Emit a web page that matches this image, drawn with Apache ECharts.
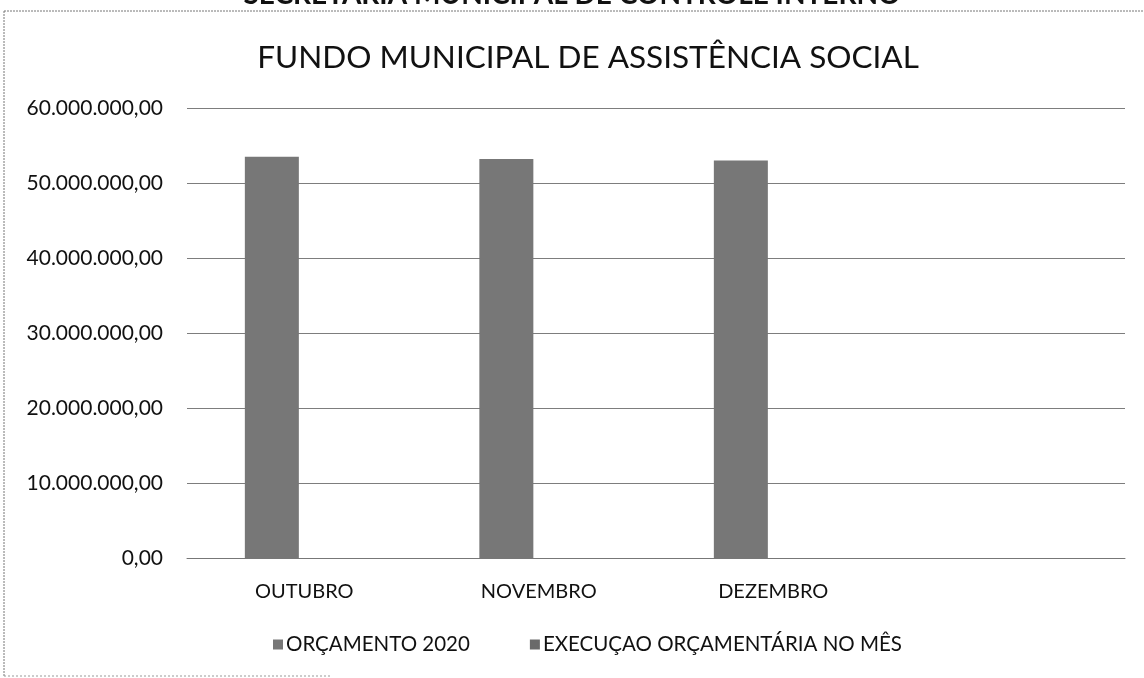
<!DOCTYPE html>
<html>
<head>
<meta charset="utf-8">
<script src="https://cdn.jsdelivr.net/npm/echarts@6/dist/echarts.min.js"></script>
<style>
  html, body { margin: 0; padding: 0; background: #fff; }
  #chart { width: 1144px; height: 678px; }
</style>
</head>
<body>
<div id="chart"></div>
<script>
// meses (a quarta posição fica vazia, como no original)
const categories = ['OUTUBRO', 'NOVEMBRO', 'DEZEMBRO', ''];
const orcamento2020 = [53500000, 53200000, 53000000, null];
const execucaoMes = [0, 0, 0, null];
const seriesNames = ['ORÇAMENTO 2020', 'EXECUÇAO ORÇAMENTÁRIA NO MÊS'];
const yTicks = { min: 0, max: 60000000, interval: 10000000 };

const FONT = 'Lato, "Open Sans", sans-serif';

function brl(v) {
  const parts = Number(v).toFixed(2).split('.');
  return parts[0].replace(/\B(?=(\d{3})+(?!\d))/g, '.') + ',' + parts[1];
}

const chart = echarts.init(document.getElementById('chart'));

const option = {
  backgroundColor: '#fff',
  animation: false,
  textStyle: { fontFamily: FONT },
  title: {
    text: 'FUNDO MUNICIPAL DE ASSISTÊNCIA SOCIAL',
    left: 583,
    textAlign: 'center',
    top: 37,
    textStyle: { fontSize: 31.5, fontWeight: 'normal', color: '#111', fontFamily: FONT }
  },
  graphic: [
    {
      type: 'text',
      left: 'center',
      top: -19,
      style: { text: 'SECRETARIA MUNICIPAL DE CONTROLE INTERNO', fontSize: 28, fontWeight: 'bold', fill: '#111', fontFamily: FONT }
    },
    // moldura pontilhada do recorte
    { type: 'line', shape: { x1: 4, y1: 11, x2: 1144, y2: 11 }, style: { stroke: '#777', lineWidth: 1, lineDash: [2, 1] } },
    { type: 'line', shape: { x1: 4, y1: 11, x2: 4, y2: 676 }, style: { stroke: '#777', lineWidth: 1, lineDash: [2, 1] } },
    { type: 'line', shape: { x1: 4, y1: 676, x2: 330, y2: 676 }, style: { stroke: '#999', lineWidth: 1, lineDash: [2, 2] } }
  ],
  legend: {
    data: seriesNames,
    left: 268,
    top: 629,
    itemWidth: 10,
    itemHeight: 10,
    itemGap: 60,
    icon: 'rect',
    textStyle: { fontSize: 20.5, color: '#111', fontFamily: FONT, padding: [0, 0, 0, -2] }
  },
  grid: { left: 187, right: 19, top: 108, bottom: 120, containLabel: false },
  xAxis: {
    type: 'category',
    data: categories,
    axisTick: { show: false },
    axisLine: { show: true, lineStyle: { color: '#777', width: 1 } },
    axisLabel: { fontSize: 20, color: '#111', margin: 24, fontFamily: FONT }
  },
  yAxis: {
    type: 'value',
    min: yTicks.min,
    max: yTicks.max,
    interval: yTicks.interval,
    axisLine: { show: false },
    axisTick: { show: false },
    splitLine: { lineStyle: { color: '#7d7d7d', width: 1 } },
    axisLabel: { fontSize: 21, color: '#111', margin: 24, fontFamily: FONT, formatter: brl }
  },
  series: [
    {
      name: seriesNames[0],
      type: 'bar',
      data: orcamento2020,
      barWidth: 54,
      barGap: '20%',
      itemStyle: { color: '#777777' }
    },
    {
      name: seriesNames[1],
      type: 'bar',
      data: execucaoMes,
      barWidth: 54,
      itemStyle: { color: '#6a6a6a' }
    }
  ]
};

chart.setOption(option);
</script>
</body>
</html>
